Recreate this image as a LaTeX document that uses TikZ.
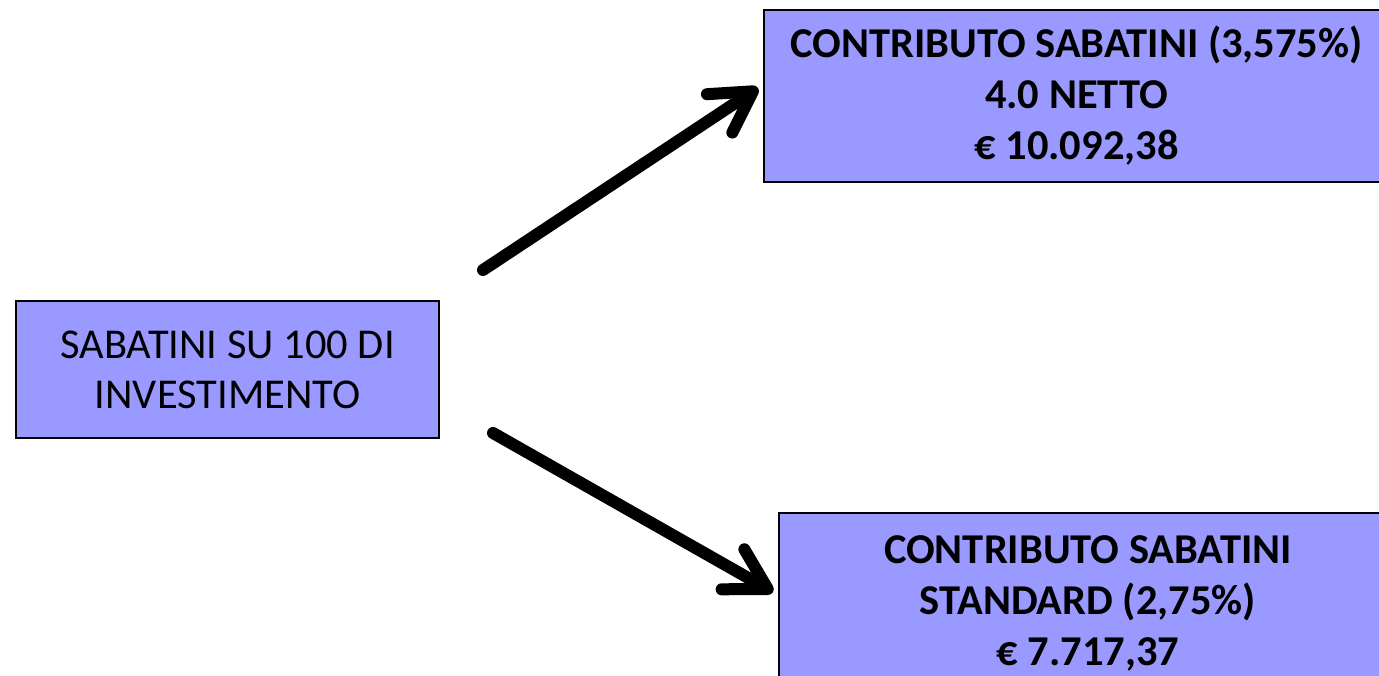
\documentclass[tikz,border=0pt]{standalone}
\usepackage{fontspec}
\setmainfont{Carlito}
\usetikzlibrary{arrows.meta}
\definecolor{boxblue}{HTML}{9999FF}
\begin{document}
\begin{tikzpicture}[x=1pt,y=-1pt,
  box/.style={draw=black, line width=1.5pt, fill=boxblue, align=center, inner sep=0pt,
    font=\fontsize{42.5}{50}\selectfont},
  boldbox/.style={box, font=\fontsize{42.5}{51}\selectfont\bfseries},
  conn/.style={line width=12pt, line cap=round,
    -{Straight Barb[length=40pt,width=46pt,line cap=round,line join=round]}}]
\useasboundingbox (0,0) rectangle (1379,676);
\node[box, minimum width=423pt, minimum height=137pt] (src) at (227.5,369.5)
  {SABATINI SU 100 DI\\INVESTIMENTO};
\node[boldbox, minimum width=625pt, minimum height=172pt] (top) at (1076.5,96)
  {CONTRIBUTO SABATINI (3,575\%)\\4.0 NETTO\\€ 10.092,38};
\node[boldbox, minimum width=618pt, minimum height=180pt] (bot) at (1088,603)
  {CONTRIBUTO SABATINI\\STANDARD (2,75\%)\\€ 7.717,37};
\coordinate (t1) at (483,270);
\coordinate (h1) at (758,88);
\coordinate (t2) at (493,433);
\coordinate (h2) at (773,592);
\draw[conn] (t1) -- (h1);
\draw[conn] (t2) -- (h2);
\end{tikzpicture}
\end{document}
